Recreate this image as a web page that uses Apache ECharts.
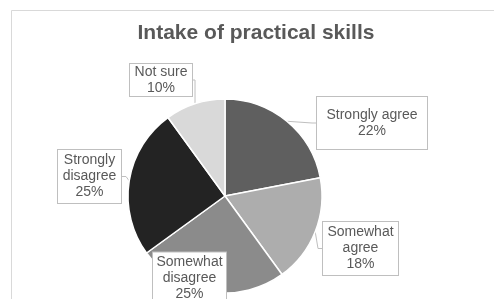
<!DOCTYPE html>
<html>
<head>
<meta charset="utf-8">
<script src="https://cdn.jsdelivr.net/npm/echarts@6/dist/echarts.min.js"></script>
<style>
html,body{margin:0;padding:0;background:#fff;}
#chart{width:494px;height:299px;}
</style>
</head>
<body>
<div id="chart"></div>
<script>
// ---- data ----
const titleText = 'Intake of practical skills';
const categories = ['Strongly agree', 'Somewhat agree', 'Somewhat disagree', 'Strongly disagree', 'Not sure'];
const labelTexts = ['Strongly agree', 'Somewhat\nagree', 'Somewhat\ndisagree', 'Strongly\ndisagree', 'Not sure'];
const values = [22, 18, 25, 25, 10];

// ---- styles / layout ----
const colors = ['#5f5f5f', '#adadad', '#8b8b8b', '#232323', '#d9d9d9'];
// label box: center x, center y, width, height, number of lines
const labelBoxes = [
  { cx: 372, cy: 123, w: 112, h: 54, n: 2 },
  { cx: 360.5, cy: 248.5, w: 77, h: 55, n: 3 },
  { cx: 189.5, cy: 278, w: 75, h: 53, n: 3 },
  { cx: 89.5, cy: 176.5, w: 65, h: 55, n: 3 },
  { cx: 161, cy: 80, w: 64, h: 34, n: 2 }
];
const LH = 16;

const chart = echarts.init(document.getElementById('chart'), null, { renderer: 'canvas' });

const seriesData = categories.map(function (name, i) {
  const b = labelBoxes[i];
  const padV = Math.max(0, (b.h - 2 - b.n * LH) / 2);
  return {
    name: name,
    value: values[i],
    itemStyle: { color: colors[i] },
    label: {
      width: b.w - 2,
      padding: [padV, 0, padV, 0]
    }
  };
});

chart.setOption({
  backgroundColor: '#ffffff',
  animation: false,
  title: {
    text: titleText,
    left: 256,
    textAlign: 'center',
    top: 23,
    padding: 0,
    textStyle: {
      fontFamily: 'Liberation Sans, Arial, sans-serif',
      fontSize: 21,
      fontWeight: 'bold',
      color: '#595959'
    }
  },
  graphic: [{
    type: 'rect',
    left: 9,
    top: 8,
    shape: { x: 0.5, y: 0.5, width: 700, height: 500 },
    style: { fill: 'none', stroke: '#d9d9d9', lineWidth: 1 },
    silent: true,
    z: -1
  }],
  series: [{
    type: 'pie',
    center: [225, 196],
    radius: 97,
    startAngle: 90,
    clockwise: true,
    itemStyle: { borderColor: '#ffffff', borderWidth: 1.5 },
    label: {
      show: true,
      position: 'outside',
      formatter: function (p) { return labelTexts[p.dataIndex] + '\n' + p.value + '%'; },
      fontFamily: 'Liberation Sans, Arial, sans-serif',
      fontSize: 14,
      lineHeight: LH,
      color: '#595959',
      align: 'center',
      backgroundColor: '#ffffff',
      borderColor: '#bfbfbf',
      borderWidth: 1
    },
    labelLine: {
      show: true,
      length: 4,
      length2: 4,
      smooth: false,
      lineStyle: { color: '#bfbfbf', width: 1 }
    },
    labelLayout: function (params) {
      const b = labelBoxes[params.dataIndex];
      return { x: b.cx, y: b.cy, align: 'center', verticalAlign: 'middle' };
    },
    emphasis: { disabled: true },
    data: seriesData
  }]
});
</script>
</body>
</html>
